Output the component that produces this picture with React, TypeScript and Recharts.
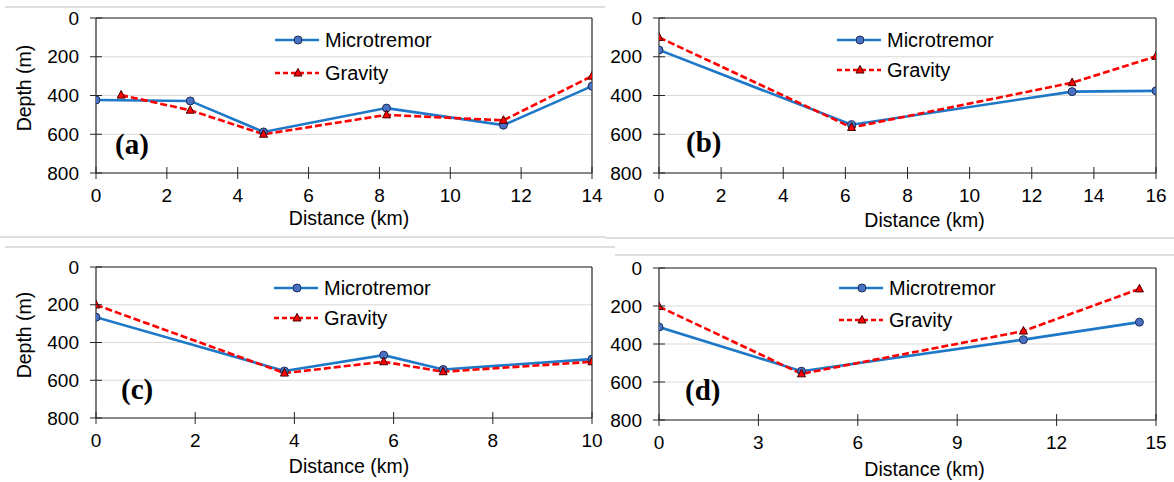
import React from 'react';
import { LineChart, Line, XAxis, YAxis, CartesianGrid, ReferenceLine, Legend } from 'recharts';

// ---------- data ----------
const SERIES_NAMES = ['Microtremor', 'Gravity'];
const DEPTH_TICKS = [0, 200, 400, 600, 800];
const X_TITLE = 'Distance (km)';
const Y_TITLE = 'Depth (m)';

// (a)
const aTicks = [0, 2, 4, 6, 8, 10, 12, 14];
const aMicroX = [0, 2.66, 4.73, 8.2, 11.5, 14];
const aMicroDepth = [423, 428, 588, 465, 553, 352];
const aGravX = [0.71, 2.66, 4.73, 8.2, 11.5, 14];
const aGravDepth = [398, 476, 600, 500, 528, 300];

// (b)
const bTicks = [0, 2, 4, 6, 8, 10, 12, 14, 16];
const bMicroX = [0, 6.2, 13.3, 16];
const bMicroDepth = [165, 551, 380, 376];
const bGravX = [0, 6.2, 13.3, 16];
const bGravDepth = [100, 565, 334, 198];

// (c)
const cTicks = [0, 2, 4, 6, 8, 10];
const cMicroX = [0, 3.8, 5.8, 7, 10];
const cMicroDepth = [266, 551, 467, 543, 488];
const cGravX = [0, 3.8, 5.8, 7, 10];
const cGravDepth = [201, 562, 502, 555, 502];

// (d)
const dTicks = [0, 3, 6, 9, 12, 15];
const dMicroX = [0, 4.3, 11, 14.5];
const dMicroDepth = [311, 543, 377, 285];
const dGravX = [0, 4.3, 11, 14.5];
const dGravDepth = [203, 557, 332, 110];

const zip = (xs: number[], ys: number[]) => xs.map((x, i) => ({ x, depth: ys[i] }));

// ---------- style ----------
const FONT = '"Liberation Sans", Arial, sans-serif';
const SERIF = '"Liberation Serif", "Times New Roman", serif';
const AXIS = '#262626';
const GRID = '#d9d9d9';
const BLUE = '#1e78c8';
const BLUE_FILL = '#4a72c4';
const BLUE_EDGE = '#1c2d57';
const RED = '#ff0000';
const RED_EDGE = '#400000';
const SEP = '#d4d4d4';
const TICK_SIZE = 6;
const TICK_MARGIN_X = 10;
const TICK_MARGIN_Y = 11;
const DASH = '7 3';

function YTick(props: any) {
  const { x, y, payload } = props;
  const ax = x + TICK_SIZE + TICK_MARGIN_Y;
  return (
    <g>
      <line x1={ax} x2={ax + 6} y1={y} y2={y} stroke={AXIS} strokeWidth={1} />
      <text x={x} y={y} dy="0.355em" textAnchor="end" fontFamily={FONT} fontSize={19} fill="#000">
        {payload.value}
      </text>
    </g>
  );
}

function XTick(props: any) {
  const { x, y, payload } = props;
  const ay = y - TICK_SIZE - TICK_MARGIN_X;
  return (
    <g>
      <line x1={x} x2={x} y1={ay - 6} y2={ay} stroke={AXIS} strokeWidth={1} />
      <text x={x} y={y} dy="0.71em" textAnchor="middle" fontFamily={FONT} fontSize={19} fill="#000">
        {payload.value}
      </text>
    </g>
  );
}

const circleDot = (p: any) => (
  <circle key={`c-${p.index}`} cx={p.cx} cy={p.cy} r={4} fill={BLUE_FILL} stroke={BLUE_EDGE} strokeWidth={1} />
);

const triangleDot = (p: any) => {
  const { cx, cy } = p;
  return (
    <path
      key={`t-${p.index}`}
      d={`M${cx},${cy - 4.6} L${cx + 4},${cy + 3} L${cx - 4},${cy + 3} Z`}
      fill={RED}
      stroke={RED_EDGE}
      strokeWidth={1}
    />
  );
};

function makeLegend(gap: number) {
  return () => {
    const r1 = 12;
    const r2 = 12 + gap;
    return (
      <svg width={170} height={r2 + 14} style={{ display: 'block', overflow: 'visible' }}>
        <line x1={0} x2={44} y1={r1} y2={r1} stroke={BLUE} strokeWidth={2.5} />
        <circle cx={23} cy={r1} r={4} fill={BLUE_FILL} stroke={BLUE_EDGE} strokeWidth={1} />
        <text x={50} y={r1} dy="0.36em" fontFamily={FONT} fontSize={20} fill="#000">
          {SERIES_NAMES[0]}
        </text>
        <line x1={0} x2={44} y1={r2} y2={r2} stroke={RED} strokeWidth={2.5} strokeDasharray="5 3" />
        <path d={`M23,${r2 - 4.6} L27,${r2 + 3} L19,${r2 + 3} Z`} fill={RED} stroke={RED_EDGE} strokeWidth={1} />
        <text x={50} y={r2} dy="0.36em" fontFamily={FONT} fontSize={20} fill="#000">
          {SERIES_NAMES[1]}
        </text>
      </svg>
    );
  };
}

type PanelProps = {
  left: number;
  top: number;
  width: number;
  height: number;
  margin: { top: number; right: number; bottom: number; left: number };
  yWidth: number;
  xHeight: number;
  xMax: number;
  xTicks: number[];
  micro: { x: number; depth: number }[];
  grav: { x: number; depth: number }[];
  showYTitle: boolean;
  xTitleDx: number;
  xTitleDy: number;
  legendLeft: number;
  legendTop: number;
  legendGap: number;
};

function Panel(p: PanelProps) {
  const xLabel = (lp: any) => {
    const vb = lp.viewBox;
    return (
      <text
        x={vb.x + vb.width / 2 + p.xTitleDx}
        y={vb.y + p.xTitleDy}
        dy="0.36em"
        textAnchor="middle"
        fontFamily={FONT}
        fontSize={19.5}
        fill="#000"
      >
        {X_TITLE}
      </text>
    );
  };
  const yLabel = (lp: any) => {
    const vb = lp.viewBox;
    const cx = 31;
    const cy = vb.y + vb.height / 2 - 7.5;
    return (
      <text
        x={cx}
        y={cy}
        transform={`rotate(-90 ${cx} ${cy})`}
        textAnchor="middle"
        fontFamily={FONT}
        fontSize={19.5}
        fill="#000"
      >
        {Y_TITLE}
      </text>
    );
  };
  return (
    <div style={{ position: 'absolute', left: p.left, top: p.top, width: p.width, height: p.height }}>
      <LineChart width={p.width} height={p.height} margin={p.margin}>
        <CartesianGrid vertical={false} stroke={GRID} strokeWidth={1.2} />
        <XAxis
          type="number"
          dataKey="x"
          domain={[0, p.xMax]}
          ticks={p.xTicks}
          interval={0}
          allowDataOverflow
          height={p.xHeight}
          tickSize={TICK_SIZE}
          tickMargin={TICK_MARGIN_X}
          axisLine={{ stroke: AXIS, strokeWidth: 1.2 }}
          tickLine={{ stroke: AXIS }}
          tick={(tp: any) => <XTick {...tp} />}
          label={xLabel}
        />
        <YAxis
          type="number"
          domain={[0, 800]}
          ticks={DEPTH_TICKS}
          interval={0}
          reversed
          allowDataOverflow
          width={p.yWidth}
          tickSize={TICK_SIZE}
          tickMargin={TICK_MARGIN_Y}
          axisLine={{ stroke: AXIS, strokeWidth: 1.2 }}
          tickLine={{ stroke: AXIS }}
          tick={(tp: any) => <YTick {...tp} />}
          label={p.showYTitle ? yLabel : undefined}
        />
        <ReferenceLine y={0} stroke={AXIS} strokeWidth={1.2} />
        <ReferenceLine x={p.xMax} stroke={AXIS} strokeWidth={1.2} />
        <Legend
          layout="vertical"
          align="center"
          verticalAlign="middle"
          content={makeLegend(p.legendGap)}
          wrapperStyle={{ left: p.legendLeft, top: p.legendTop, width: 170, bottom: 'auto', right: 'auto' }}
        />
        <Line
          data={p.micro}
          dataKey="depth"
          name={SERIES_NAMES[0]}
          stroke={BLUE}
          strokeWidth={2.6}
          dot={circleDot}
          activeDot={false}
          isAnimationActive={false}
        />
        <Line
          data={p.grav}
          dataKey="depth"
          name={SERIES_NAMES[1]}
          stroke={RED}
          strokeWidth={2.6}
          strokeDasharray={DASH}
          dot={triangleDot}
          activeDot={false}
          isAnimationActive={false}
        />
      </LineChart>
    </div>
  );
}

export default function App() {
  return (
    <div style={{ position: 'absolute', left: 0, top: 0, width: 1174, height: 482, background: '#fff', overflow: 'hidden' }}>
      <Panel
        left={0} top={0} width={614} height={240}
        margin={{ top: 18, right: 22, bottom: 0, left: 0 }}
        yWidth={96} xHeight={67} xMax={14} xTicks={aTicks}
        micro={zip(aMicroX, aMicroDepth)} grav={zip(aGravX, aGravDepth)}
        showYTitle xTitleDx={5} xTitleDy={45}
        legendLeft={275} legendTop={28} legendGap={33}
      />
      <Panel
        left={600} top={0} width={574} height={240}
        margin={{ top: 18, right: 18, bottom: 0, left: 0 }}
        yWidth={59} xHeight={67} xMax={16} xTicks={bTicks}
        micro={zip(bMicroX, bMicroDepth)} grav={zip(bGravX, bGravDepth)}
        showYTitle={false} xTitleDx={17} xTitleDy={47}
        legendLeft={237} legendTop={28} legendGap={30}
      />
      <Panel
        left={0} top={240} width={614} height={242}
        margin={{ top: 27, right: 22, bottom: 0, left: 0 }}
        yWidth={96} xHeight={64} xMax={10} xTicks={cTicks}
        micro={zip(cMicroX, cMicroDepth)} grav={zip(cGravX, cGravDepth)}
        showYTitle xTitleDx={5} xTitleDy={48}
        legendLeft={274} legendTop={36} legendGap={30}
      />
      <Panel
        left={600} top={240} width={574} height={242}
        margin={{ top: 28, right: 18, bottom: 0, left: 0 }}
        yWidth={59} xHeight={62} xMax={15} xTicks={dTicks}
        micro={zip(dMicroX, dMicroDepth)} grav={zip(dGravX, dGravDepth)}
        showYTitle={false} xTitleDx={17} xTitleDy={49}
        legendLeft={239} legendTop={36} legendGap={32}
      />
      <svg
        width={1174}
        height={482}
        style={{ position: 'absolute', left: 0, top: 0, pointerEvents: 'none' }}
      >
        <line x1={5} x2={605} y1={7} y2={7} stroke={SEP} strokeWidth={1.5} />
        <line x1={0} x2={605} y1={237} y2={237} stroke={SEP} strokeWidth={1.5} />
        <line x1={605} x2={1174} y1={238} y2={238} stroke={SEP} strokeWidth={1.5} />
        <line x1={5} x2={615} y1={247} y2={247} stroke={SEP} strokeWidth={1.5} />
        <line x1={615} x2={1174} y1={255} y2={255} stroke={SEP} strokeWidth={1.5} />
        <text x={115} y={154} fontFamily={SERIF} fontWeight="bold" fontSize={29} fill="#000">(a)</text>
        <text x={686} y={152} fontFamily={SERIF} fontWeight="bold" fontSize={29} fill="#000">(b)</text>
        <text x={121} y={399} fontFamily={SERIF} fontWeight="bold" fontSize={29} fill="#000">(c)</text>
        <text x={685} y={400} fontFamily={SERIF} fontWeight="bold" fontSize={29} fill="#000">(d)</text>
      </svg>
    </div>
  );
}
